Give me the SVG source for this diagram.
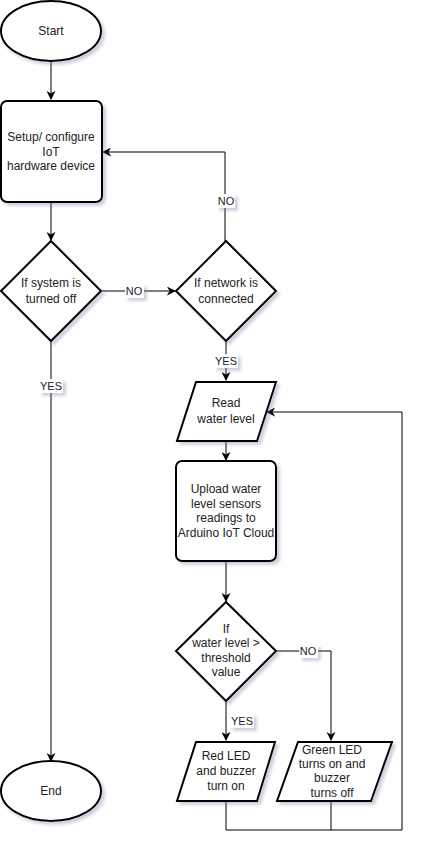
<svg xmlns="http://www.w3.org/2000/svg" width="421" height="851" viewBox="0 0 421 851">
<defs>
<filter id="sh" x="-20%" y="-20%" width="150%" height="150%">
<feDropShadow dx="3" dy="3" stdDeviation="1.5" flood-color="#7a7aa0" flood-opacity="0.35"/>
</filter>
<marker id="arr" viewBox="0 0 10 10" refX="9" refY="5" markerWidth="9" markerHeight="9" orient="auto" markerUnits="userSpaceOnUse">
<path d="M0,0 L10,5 L0,10 L3,5 Z" fill="#000"/>
</marker>
<style>
.shape{fill:#fff;stroke:#000;stroke-width:2;filter:url(#sh)}
.edge{fill:none;stroke:#000;stroke-width:1}
.t{font-family:"Liberation Sans",Arial,sans-serif;font-size:12px;fill:#222;text-anchor:middle}
.lbl{font-family:"Liberation Sans",Arial,sans-serif;font-size:11px;fill:#222;text-anchor:middle}
.lb{fill:#fff;filter:url(#sh)}
</style>
</defs>
<rect width="421" height="851" fill="#fff"/>
<g id="connectors">
<path class="edge" d="M51,61 V99" marker-end="url(#arr)"/>
<path class="edge" d="M51,202 V240" marker-end="url(#arr)"/>
<path class="edge" d="M102,291 H175" marker-end="url(#arr)"/>
<path class="edge" d="M225,241 V152 H103" marker-end="url(#arr)"/>
<path class="edge" d="M226,341 V380" marker-end="url(#arr)"/>
<path class="edge" d="M51,341 V761" marker-end="url(#arr)"/>
<path class="edge" d="M226,441 V460" marker-end="url(#arr)"/>
<path class="edge" d="M226,561 V601" marker-end="url(#arr)"/>
<path class="edge" d="M226,701 V740" marker-end="url(#arr)"/>
<path class="edge" d="M276,651 H331 V740" marker-end="url(#arr)"/>
<path class="edge" d="M226,801 V830 H402 V412 H267" marker-end="url(#arr)"/>
<path class="edge" d="M331,801 V830"/>
<rect class="lb" x="216" y="194" width="19" height="14"/>
<text class="lbl" x="226" y="205">NO</text>
<rect class="lb" x="125" y="284" width="19" height="14"/>
<text class="lbl" x="134" y="295">NO</text>
<rect class="lb" x="214" y="354" width="24" height="14"/>
<text class="lbl" x="226" y="365">YES</text>
<rect class="lb" x="39" y="379" width="24" height="14"/>
<text class="lbl" x="51" y="390">YES</text>
<rect class="lb" x="299" y="644" width="19" height="14"/>
<text class="lbl" x="308" y="655">NO</text>
<rect class="lb" x="230" y="714" width="24" height="14"/>
<text class="lbl" x="242" y="725">YES</text>
</g>
<g id="start">
<ellipse class="shape" cx="51" cy="31" rx="50" ry="30"/>
<text class="t" x="51" y="35">Start</text>
</g>
<g id="setup">
<rect class="shape" x="1" y="101" width="101" height="101" rx="6"/>
<text class="t" x="51" y="141">Setup/ configure</text>
<text class="t" x="51" y="156">IoT</text>
<text class="t" x="51" y="170">hardware device</text>
</g>
<g id="system-off">
<path class="shape" d="M51,241 L101,291 L51,341 L1,291 Z"/>
<text class="t" x="51" y="287">If system is</text>
<text class="t" x="51" y="303">turned off</text>
</g>
<g id="network">
<path class="shape" d="M226,241 L276,291 L226,341 L176,291 Z"/>
<text class="t" x="226" y="287">If network is</text>
<text class="t" x="226" y="303">connected</text>
</g>
<g id="read">
<path class="shape" d="M196,382 H276 L257,441 H177 Z"/>
<text class="t" x="226" y="407">Read</text>
<text class="t" x="226" y="423">water level</text>
</g>
<g id="upload">
<rect class="shape" x="176" y="461" width="100" height="100" rx="6"/>
<text class="t" x="226" y="493">Upload water</text>
<text class="t" x="226" y="508">level sensors</text>
<text class="t" x="226" y="522">readings to</text>
<text class="t" x="226" y="537">Arduino IoT Cloud</text>
</g>
<g id="threshold">
<path class="shape" d="M226,602 L276,651 L226,701 L176,651 Z"/>
<text class="t" x="226" y="633">If</text>
<text class="t" x="226" y="647">water level &gt;</text>
<text class="t" x="226" y="662">threshold</text>
<text class="t" x="226" y="676">value</text>
</g>
<g id="red-led">
<path class="shape" d="M196,742 H275 L257,801 H177 Z"/>
<text class="t" x="226" y="760">Red LED</text>
<text class="t" x="226" y="775">and buzzer</text>
<text class="t" x="226" y="790">turn on</text>
</g>
<g id="green-led">
<path class="shape" d="M298,742 H392 L371,801 H277 Z"/>
<text class="t" x="332" y="754">Green LED</text>
<text class="t" x="332" y="768">turns on and</text>
<text class="t" x="332" y="782">buzzer</text>
<text class="t" x="332" y="797">turns off</text>
</g>
<g id="end">
<ellipse class="shape" cx="51" cy="791" rx="50" ry="30"/>
<text class="t" x="51" y="795">End</text>
</g>
</svg>
